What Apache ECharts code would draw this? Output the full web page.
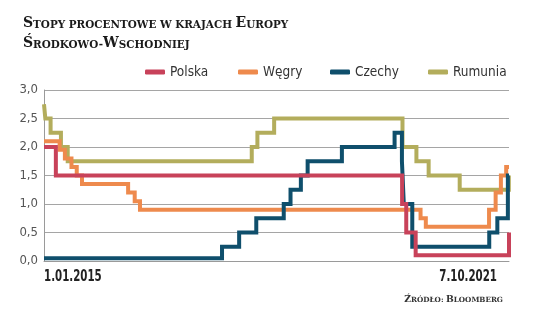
<!DOCTYPE html>
<html>
<head>
<meta charset="utf-8">
<script src="https://cdn.jsdelivr.net/npm/echarts@6/dist/echarts.min.js"></script>
<style>
html,body{margin:0;padding:0;background:#fff;}
#c{width:536px;height:322px;}
</style>
</head>
<body>
<div id="c"></div>
<script>
// ---- DATA ----
const titleLines = ['Stopy procentowe w krajach Europy', 'Środkowo-Wschodniej'];
const sourceText = 'Źródło: Bloomberg';
const seriesNames = ['Polska', 'Węgry', 'Czechy', 'Rumunia'];

const polskaDates  = ['2015-01-01','2015-03-05','2020-03-18','2020-04-09','2020-05-29','2021-10-07'];
const polskaValues = [2.0, 1.5, 1.0, 0.5, 0.1, 0.5];

const wegryDates  = ['2015-01-01','2015-03-25','2015-04-22','2015-05-27','2015-06-24','2015-07-22','2016-03-23','2016-04-27','2016-05-25','2020-06-24','2020-07-22','2021-06-23','2021-07-28','2021-08-25','2021-09-22','2021-10-07'];
const wegryValues = [2.10, 1.95, 1.80, 1.65, 1.50, 1.35, 1.20, 1.05, 0.90, 0.75, 0.60, 0.90, 1.20, 1.50, 1.65, 1.65];

const czechyDates  = ['2015-01-01','2017-08-04','2017-11-03','2018-02-02','2018-06-28','2018-08-03','2018-09-27','2018-11-02','2019-05-03','2020-02-07','2020-03-17','2020-03-27','2020-05-11','2021-06-24','2021-08-06','2021-10-01','2021-10-07'];
const czechyValues = [0.05, 0.25, 0.50, 0.75, 1.00, 1.25, 1.50, 1.75, 2.00, 2.25, 1.75, 1.00, 0.25, 0.50, 0.75, 1.50, 1.50];

const rumuniaDates  = ['2015-01-01','2015-01-08','2015-02-05','2015-04-01','2015-05-07','2018-01-09','2018-02-08','2018-05-08','2020-03-20','2020-06-02','2020-08-06','2021-01-18','2021-10-06','2021-10-07'];
const rumuniaValues = [2.75, 2.50, 2.25, 2.00, 1.75, 2.00, 2.25, 2.50, 2.00, 1.75, 1.50, 1.25, 1.50, 1.50];

const xStart = '2015-01-01';
const xEnd = '2021-10-07';
const xTickLabels = ['1.01.2015', '7.10.2021'];
const yTicks = [0, 0.5, 1.0, 1.5, 2.0, 2.5, 3.0];

// ---- helpers ----
const colors = {Polska:'#c8425a', 'Węgry':'#ee8a4d', Czechy:'#0f4f6c', Rumunia:'#b3ad5c'};
function pl(s){const p=s.split('-').map(Number);return new Date(p[0],p[1]-1,p[2]).getTime();}
function zip(d,v){return d.map((x,i)=>[pl(x),v[i]]);}
function smallCaps(str, big, small){
  let out='', cur=null, buf='';
  for (const ch of str){
    const isBig = ch !== ch.toLowerCase();
    const st = isBig ? big : small;
    const c = isBig ? ch : ch.toUpperCase();
    if (st !== cur){ if (cur) out += '{'+cur+'|'+buf+'}'; cur = st; buf = ''; }
    buf += c;
  }
  if (cur) out += '{'+cur+'|'+buf+'}';
  return out;
}
const titleFont = '"DejaVu Serif", serif';
const labelFont = '"DejaVu Sans Condensed", "DejaVu Sans", sans-serif';

const chart = echarts.init(document.getElementById('c'), null, {renderer:'canvas'});
const serData = {
  Polska: zip(polskaDates, polskaValues),
  'Węgry': zip(wegryDates, wegryValues),
  Czechy: zip(czechyDates, czechyValues),
  Rumunia: zip(rumuniaDates, rumuniaValues)
};
const drawOrder = ['Rumunia','Węgry','Czechy','Polska'];
const legendLefts = [145, 238, 330, 428];

function titleRich(bs, ss, lh, col){
  return {
    b:{fontFamily:titleFont, fontWeight:'bold', fontSize:bs, color:col, verticalAlign:'bottom', lineHeight:lh},
    s:{fontFamily:titleFont, fontWeight:'bold', fontSize:ss, color:col, verticalAlign:'bottom', lineHeight:lh}
  };
}

const option = {
  backgroundColor:'#ffffff',
  animation:false,
  title:[
    {left:23, top:10, padding:0, text: smallCaps(titleLines[0],'b','s'), textStyle:{rich:titleRich(14,10.4,20,'#1a1a1a')}},
    {left:23, top:30, padding:0, text: smallCaps(titleLines[1],'b','s'), textStyle:{rich:titleRich(14,10.4,20,'#1a1a1a')}},
    {right:33, top:290, padding:0, text: smallCaps(sourceText,'b','s'), textStyle:{rich:titleRich(9.2,7.2,14,'#333')}}
  ],
  legend: seriesNames.map((n,i)=>({
    data:[n], left:legendLefts[i], top:65, icon:'roundRect', itemWidth:20, itemHeight:5,
    itemGap:0, selectedMode:false, padding:0,
    textStyle:{fontFamily:labelFont, fontSize:13.5, color:'#333'}
  })),
  grid:{left:44, right:27, top:90, bottom:61, containLabel:false},
  xAxis:{
    type:'time', min:pl(xStart), max:pl(xEnd),
    axisLine:{show:true, lineStyle:{color:'#9a9a9a', width:1}},
    axisTick:{show:false},
    splitLine:{show:false},
    axisLabel:{show:false}
  },
  yAxis:{
    type:'value', min:0, max:3, interval:0.5,
    axisLine:{show:true, lineStyle:{color:'#9a9a9a', width:1}},
    axisTick:{show:false},
    splitLine:{show:true, lineStyle:{color:'#a5a5a5', width:1}},
    axisLabel:{
      margin:6, fontFamily:labelFont, fontSize:13, color:'#555',
      formatter:function(v){ return Number(v).toFixed(1).replace('.', ','); }
    }
  },
  series: drawOrder.map(n=>({
    name:n, type:'line', step:'end', data:serData[n], showSymbol:false, symbol:'none',
    color:colors[n],
    lineStyle:{color:colors[n], width:4, join:'miter', cap:'butt'},
    clip:false
  }))
};
chart.setOption(option);

// x-axis end labels, positioned through the axis scale
const p0 = chart.convertToPixel({xAxisIndex:0, yAxisIndex:0}, [pl(xStart), 0]);
const p1 = chart.convertToPixel({xAxisIndex:0, yAxisIndex:0}, [pl(xEnd), 0]);
chart.setOption({
  graphic:[
    {type:'text', x:p0[0], y:p0[1]+9, scaleX:0.76, style:{text:xTickLabels[0], fontFamily:labelFont, fontWeight:'bold', fontSize:15, fill:'#222', align:'left', verticalAlign:'top'}},
    {type:'text', x:p1[0]-12, y:p1[1]+9, scaleX:0.76, style:{text:xTickLabels[1], fontFamily:labelFont, fontWeight:'bold', fontSize:15, fill:'#222', align:'right', verticalAlign:'top'}}
  ]
});
</script>
</body>
</html>
